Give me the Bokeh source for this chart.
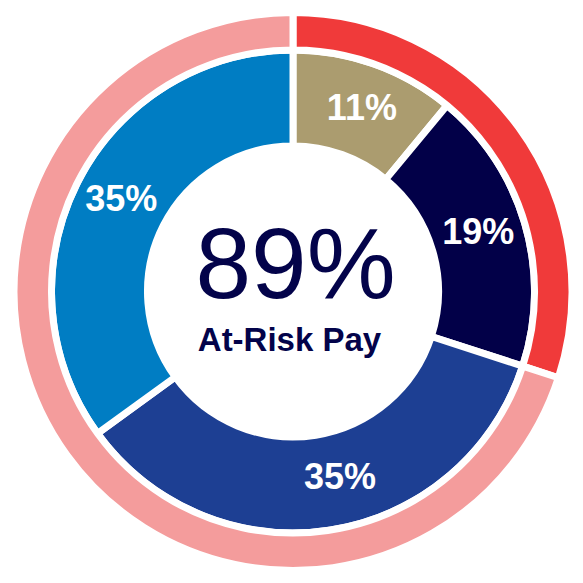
import math
import numpy as np
from bokeh.plotting import figure
from bokeh.models import Range1d, ColumnDataSource
from bokeh.core.properties import value
from bokeh.embed import file_html
from bokeh.resources import INLINE

# ---- data ----
inner_labels = ["11%", "19%", "35%", "35%"]
inner_values = [11, 19, 35, 35]
inner_colors = ["#AB9C6F", "#020048", "#1D3F93", "#007DC3"]

outer_values = [30, 70]
outer_colors = ["#F03A3A", "#F49C9C"]

center_value = "89%"
center_caption = "At-Risk Pay"

# ---- layout constants ----
GAP = 7
HOLE_R, INNER_R = 149, 238
OUTER_IN, OUTER_OUT = 245, 275.5
LABEL_R = 194
LABEL_DY = 3
label_nudge_deg = [1, -1, -5, 0.7]


def wedge_angles(vals):
    vals = np.asarray(vals, dtype=float)
    tot = vals.sum()
    c1 = np.cumsum(vals) / tot
    c0 = c1 - vals / tot
    start = math.pi / 2 - 2 * math.pi * c1
    end = math.pi / 2 - 2 * math.pi * c0
    return start, end, (c0 + c1) / 2


p = figure(width=575, height=575, output_backend="svg", toolbar_location=None,
           x_range=Range1d(-292.5, 282.5), y_range=Range1d(-284, 291),
           x_axis_location=None, y_axis_location=None, min_border=0,
           outline_line_color=None, background_fill_color="white",
           border_fill_color="white")
p.grid.visible = False

s_in, e_in, mid_in = wedge_angles(inner_values)
src_in = ColumnDataSource(dict(start=s_in, end=e_in, color=inner_colors))
p.annular_wedge(x=0, y=0, inner_radius=HOLE_R - GAP / 2, outer_radius=INNER_R + GAP / 2,
                start_angle="start", end_angle="end", direction="anticlock",
                fill_color="color", line_color="white", line_width=GAP,
                line_join="round", source=src_in)

s_out, e_out, _ = wedge_angles(outer_values)
src_out = ColumnDataSource(dict(start=s_out, end=e_out, color=outer_colors))
p.annular_wedge(x=0, y=0, inner_radius=OUTER_IN - GAP / 2, outer_radius=OUTER_OUT + GAP / 2,
                start_angle="start", end_angle="end", direction="anticlock",
                fill_color="color", line_color="white", line_width=GAP,
                line_join="round", source=src_out)

# segment labels
lab_font = 36
theta = 2 * math.pi * mid_in + np.radians(label_nudge_deg)  # clockwise from top
lx = LABEL_R * np.sin(theta)
ly = LABEL_R * np.cos(theta) + LABEL_DY
p.text(x=lx, y=ly, text=inner_labels, text_color="white",
       text_font=value("Liberation Sans"), text_font_style="bold",
       text_font_size=f"{lab_font}px", text_align="center", text_baseline="middle")

# centre texts
p.text(x=[2.5], y=[29], text=[center_value], text_color="#03034A",
       text_font=value("Liberation Sans"), text_font_size="100px",
       text_align="center", text_baseline="middle")
p.text(x=[-3.5], y=[-47.5], text=[center_caption], text_color="#03034A",
       text_font=value("Liberation Sans"), text_font_style="bold",
       text_font_size="33px", text_align="center", text_baseline="middle")

open("out.html", "w").write(file_html(p, INLINE))
